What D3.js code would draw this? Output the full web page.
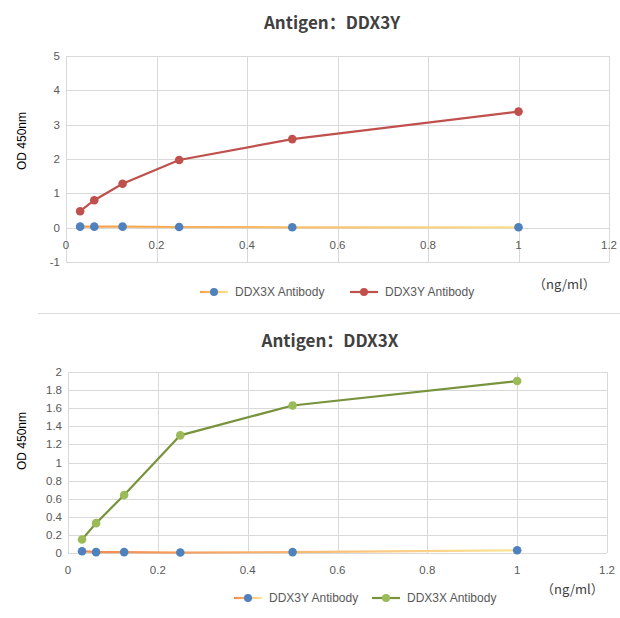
<!DOCTYPE html>
<html>
<head>
<meta charset="utf-8">
<script src="https://cdn.jsdelivr.net/npm/d3@7"></script>
<style>
body { margin:0; background:#fff; }
svg { display:block; font-family:"Liberation Sans", Arial, sans-serif; }
.title { font-family:"Noto Sans CJK SC", "Noto Sans", sans-serif; font-weight:bold; font-size:17px; fill:#404040; }
.tick-label { font-size:11.5px; fill:#595959; }
.grid { stroke:#d9d9d9; stroke-width:1; }
.ylab { font-size:12px; fill:#000; }
.legend-text { font-size:12px; fill:#595959; }
.unit { font-family:"Noto Sans CJK SC", sans-serif; font-size:13px; fill:#404040; }
</style>
</head>
<body>
<svg id="chart" width="620" height="618"></svg>
<script>
// concentrations (ng/ml)
var conc = [0.03125, 0.0625, 0.125, 0.25, 0.5, 1]
var xTicks = [0, 0.2, 0.4, 0.6, 0.8, 1, 1.2]

// antigen DDX3Y
var y_ddx3xAb = [0.03, 0.03, 0.03, 0.02, 0.01, 0.01]
var y_ddx3yAb = [0.48, 0.80, 1.28, 1.97, 2.58, 3.38]
var yTicksTop = [-1, 0, 1, 2, 3, 4, 5]

// antigen DDX3X
var x_ddx3yAb = [0.02, 0.01, 0.01, 0.005, 0.01, 0.03]
var x_ddx3xAb = [0.15, 0.33, 0.64, 1.30, 1.63, 1.90]
var yTicksBottom = [0, 0.2, 0.4, 0.6, 0.8, 1, 1.2, 1.4, 1.6, 1.8, 2]

var svg = d3.select("#chart")

var defs = svg.append("defs")
function addGradient(id, x1, x2, c1, c2) {
  var g = defs.append("linearGradient")
    .attr("id", id)
    .attr("gradientUnits", "userSpaceOnUse")
    .attr("x1", x1).attr("x2", x2)
    .attr("y1", 0).attr("y2", 0)
  g.append("stop").attr("offset", "0%").attr("stop-color", c1)
  g.append("stop").attr("offset", "100%").attr("stop-color", c2)
}

function drawChart(opt) {
  var g = svg.append("g")
  var xScale = d3.scaleLinear().domain([0, 1.2]).range([opt.left, opt.right])
  var yScale = d3.scaleLinear().domain(opt.yDomain).range([opt.bottom, opt.top])

  g.append("text")
    .attr("class", "title")
    .attr("x", opt.titleX).attr("y", opt.titleY)
    .attr("text-anchor", "middle")
    .text(opt.title)

  // grid
  g.selectAll(".hgrid").data(opt.yTicks).enter().append("line")
    .attr("class", "grid")
    .attr("x1", opt.left).attr("x2", opt.right)
    .attr("y1", function(d) { return Math.round(yScale(d)) + 0.5 })
    .attr("y2", function(d) { return Math.round(yScale(d)) + 0.5 })
  g.selectAll(".vgrid").data(xTicks).enter().append("line")
    .attr("class", "grid")
    .attr("y1", opt.top).attr("y2", opt.bottom)
    .attr("x1", function(d) { return Math.round(xScale(d)) + 0.5 })
    .attr("x2", function(d) { return Math.round(xScale(d)) + 0.5 })

  // y tick labels
  g.selectAll(".ytl").data(opt.yTicks).enter().append("text")
    .attr("class", "tick-label")
    .attr("x", opt.left - 6)
    .attr("y", function(d) { return yScale(d) + 4 })
    .attr("text-anchor", "end")
    .text(function(d) { return d })

  // x tick labels, sitting below the zero line
  g.selectAll(".xtl").data(xTicks).enter().append("text")
    .attr("class", "tick-label")
    .attr("x", function(d) { return xScale(d) })
    .attr("y", yScale(0) + 21)
    .attr("text-anchor", "middle")
    .text(function(d) { return d })

  g.append("text")
    .attr("class", "ylab")
    .attr("transform", "translate(" + opt.ylabX + "," + opt.ylabY + ") rotate(-90)")
    .attr("text-anchor", "middle")
    .text("OD 450nm")

  var line = d3.line()
    .x(function(d) { return xScale(d[0]) })
    .y(function(d) { return yScale(d[1]) })

  opt.series.forEach(function(s) {
    var pts = conc.map(function(c, i) { return [c, s.values[i]] })
    g.append("path")
      .attr("d", line(pts))
      .attr("fill", "none")
      .attr("stroke", s.line)
      .attr("stroke-width", 2.2)
    g.selectAll(null).data(pts).enter().append("circle")
      .attr("cx", function(d) { return xScale(d[0]) })
      .attr("cy", function(d) { return yScale(d[1]) })
      .attr("r", 4.3)
      .attr("fill", s.marker)
  })

  // legend
  opt.series.forEach(function(s, i) {
    var lx = opt.legendX[i]
    g.append("line")
      .attr("x1", lx).attr("x2", lx + 28)
      .attr("y1", opt.legendY).attr("y2", opt.legendY)
      .attr("stroke", s.legendLine)
      .attr("stroke-width", 2.2)
    g.append("circle")
      .attr("cx", lx + 14).attr("cy", opt.legendY)
      .attr("r", 4).attr("fill", s.marker)
    g.append("text")
      .attr("class", "legend-text")
      .attr("x", lx + 35).attr("y", opt.legendY + 4)
      .text(s.name)
  })

  g.append("text")
    .attr("class", "unit")
    .attr("x", opt.unitX).attr("y", opt.unitY)
    .text("（ng/ml）")
}

addGradient("gradTop", 80, 519, "#f4a04a", "#ffe08e")
addGradient("gradBottom", 82, 517, "#f2894f", "#ffe597")
addGradient("legTop", 200, 228, "#f4a04a", "#ffe08e")
addGradient("legBottom", 234, 262, "#f2894f", "#ffe597")

drawChart({
  title: "Antigen：DDX3Y", titleX: 332, titleY: 29,
  left: 66, right: 609, top: 56, bottom: 262,
  yDomain: [-1, 5], yTicks: yTicksTop,
  ylabX: 26, ylabY: 141,
  legendX: [200, 350], legendY: 292,
  unitX: 533, unitY: 289,
  series: [
    { name: "DDX3X Antibody", values: y_ddx3xAb, line: "url(#gradTop)", legendLine: "url(#legTop)", marker: "#4f81bd" },
    { name: "DDX3Y Antibody", values: y_ddx3yAb, line: "#c0504d", legendLine: "#c0504d", marker: "#c0504d" }
  ]
})

svg.append("line")
  .attr("x1", 38).attr("x2", 620)
  .attr("y1", 313.5).attr("y2", 313.5)
  .attr("stroke", "#dcdcdc").attr("stroke-width", 1.2)

drawChart({
  title: "Antigen：DDX3X", titleX: 330, titleY: 347,
  left: 68, right: 607, top: 372, bottom: 553,
  yDomain: [0, 2], yTicks: yTicksBottom,
  ylabX: 26, ylabY: 441,
  legendX: [234, 372], legendY: 598,
  unitX: 541, unitY: 594,
  series: [
    { name: "DDX3Y Antibody", values: x_ddx3yAb, line: "url(#gradBottom)", legendLine: "url(#legBottom)", marker: "#4f81bd" },
    { name: "DDX3X Antibody", values: x_ddx3xAb, line: "#77933c", legendLine: "#77933c", marker: "#9bbb59" }
  ]
})
</script>
</body>
</html>
